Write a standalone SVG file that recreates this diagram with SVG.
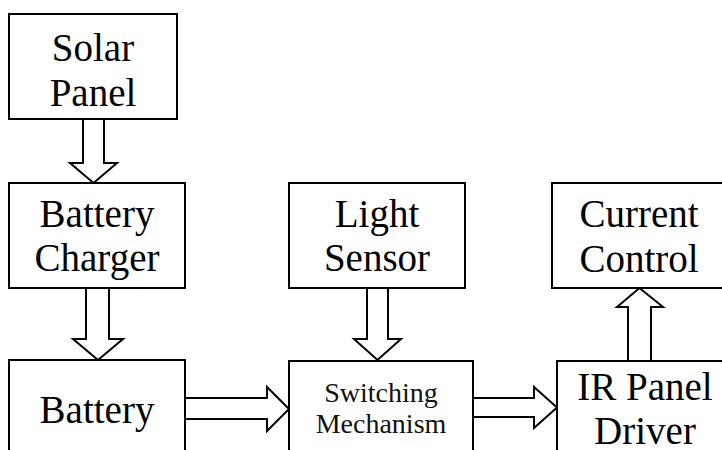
<svg xmlns="http://www.w3.org/2000/svg" width="722" height="450" viewBox="0 0 722 450">
<style>
.box{fill:#fff;stroke:#000;stroke-width:2}
.arr{fill:#fff;stroke:#000;stroke-width:2;stroke-linejoin:miter}
.t{font-family:"Liberation Serif","Times New Roman",serif;font-size:39px;fill:#000;text-anchor:middle}
.s{font-family:"Liberation Serif","Times New Roman",serif;font-size:28px;fill:#111;text-anchor:middle}
</style>
<rect width="722" height="450" fill="#fff"/>
<g id="connectors">
<polygon class="arr" points="83,119 83,163 70,163 93.5,183 117,163 104,163 104,119"/>
<polygon class="arr" points="86,288 86,339 73,339 98,360 123,339 109,339 109,288"/>
<polygon class="arr" points="367,288 367,339 354,339 377.5,360 401,339 388,339 388,288"/>
<polygon class="arr" points="185,398 267,398 267,387 289,409 267,431 267,419 185,419"/>
<polygon class="arr" points="473,398 534,398 534,387 557,407.5 534,428 534,417 473,417"/>
<polygon class="arr" points="628,361 628,307 617,307 639.5,288 663,307 651,307 651,361"/>
</g>
<g id="solar-panel">
<rect class="box" x="9" y="14" width="168" height="105"/>
<text class="t" x="93" y="61">Solar</text>
<text class="t" x="93" y="106">Panel</text>
</g>
<g id="battery-charger">
<rect class="box" x="9" y="183" width="176" height="105"/>
<text class="t" x="97" y="227">Battery</text>
<text class="t" x="97" y="271">Charger</text>
</g>
<g id="battery">
<rect class="box" x="9" y="360" width="176" height="100"/>
<text class="t" x="97" y="423">Battery</text>
</g>
<g id="light-sensor">
<rect class="box" x="289" y="183" width="176" height="105"/>
<text class="t" x="377" y="227">Light</text>
<text class="t" x="377" y="271">Sensor</text>
</g>
<g id="switching-mechanism">
<rect class="box" x="289" y="361" width="184" height="100"/>
<text class="s" x="381" y="402">Switching</text>
<text class="s" x="381" y="433">Mechanism</text>
</g>
<g id="current-control">
<rect class="box" x="552" y="183" width="176" height="105"/>
<text class="t" x="639" y="227">Current</text>
<text class="t" x="639" y="272">Control</text>
</g>
<g id="ir-panel-driver">
<rect class="box" x="557" y="361" width="176" height="100"/>
<text class="t" x="645" y="400">IR Panel</text>
<text class="t" x="645" y="444">Driver</text>
</g>
</svg>
